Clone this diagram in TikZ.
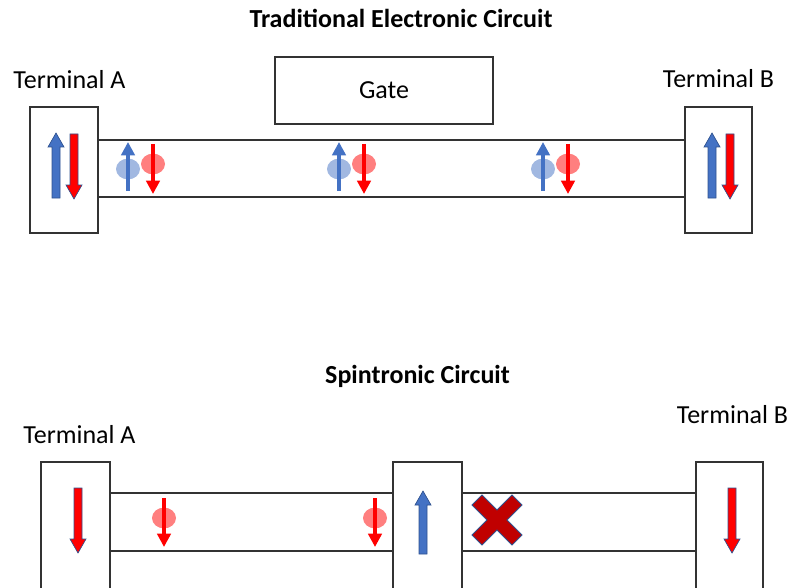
\documentclass[tikz,border=0pt]{standalone}
\usepackage{fontspec}
\setmainfont{Carlito}
\usetikzlibrary{arrows.meta}

\definecolor{spinblue}{HTML}{4472C4}
\definecolor{spinedge}{HTML}{2F528F}
\definecolor{spinred}{HTML}{FF0000}
\definecolor{crossred}{HTML}{C00000}

% block arrows: x, tip y, tail y
\newcommand\spinup[3]{\draw[bigblue] (#1-4,#3) -- (#1-4,#2+14) -- (#1-8,#2+14) -- (#1,#2) -- (#1+8,#2+14) -- (#1+4,#2+14) -- (#1+4,#3) -- cycle;}
\newcommand\spindown[3]{\draw[bigred] (#1-4,#3) -- (#1-4,#2-14) -- (#1-8,#2-14) -- (#1,#2) -- (#1+8,#2-14) -- (#1+4,#2-14) -- (#1+4,#3) -- cycle;}

\begin{document}
\begin{tikzpicture}[x=0.75pt,y=-0.75pt,
  every node/.style={font=\fontsize{19.5}{23}\selectfont},
  box/.style={draw=black!80,line width=1pt,inner sep=0pt},
  wire/.style={draw=black!80,line width=1pt},
  bigblue/.style={fill=spinblue,draw=spinedge,line width=0.5pt},
  bigred/.style={fill=spinred,draw=spinedge,line width=0.5pt},
  eblue/.style={fill=spinblue,fill opacity=0.5},
  ered/.style={fill=spinred,fill opacity=0.5},
  upspin/.style={spinblue,line width=2.6pt,-{Triangle[length=10pt,width=10pt]}},
  downspin/.style={spinred,line width=2.6pt,-{Triangle[length=10pt,width=10pt]}}]
  \useasboundingbox (0,0) rectangle (795,588);

  % traditional circuit
  \node[font=\fontsize{19.5}{23}\selectfont\bfseries] (title1) at (401,18) {Traditional Electronic Circuit};
  \node[box,minimum width=51pt,minimum height=94.5pt] (ta1) at (64,170) {};
  \node[box,minimum width=50.25pt,minimum height=94.5pt] (tb1) at (718.5,170) {};
  \node[box,minimum width=163.5pt,minimum height=50.25pt] (gate) at (384,90.5) {Gate};
  \node (la1) at (69.5,80) {Terminal A};
  \node (lb1) at (718.5,79) {Terminal B};
  \draw[wire] (ta1.east |- 0,140) -- (tb1.west |- 0,140);
  \draw[wire] (ta1.east |- 0,197) -- (tb1.west |- 0,197);
  \spinup{56}{133}{198}
  \spindown{74}{199}{134}
  \spinup{712}{133}{198}
  \spindown{730}{199}{134}
  \foreach \ex in {128,339,543} {
    \fill[eblue] (\ex,169) ellipse [x radius=9pt,y radius=7.8pt];
    \fill[ered] (\ex+25,164) ellipse [x radius=9pt,y radius=7.8pt];
    \draw[upspin] (\ex,191) -- (\ex,142);
    \draw[downspin] (\ex+25,144) -- (\ex+25,194);
  }

  % spintronic circuit
  \node[font=\fontsize{19.5}{23}\selectfont\bfseries] (title2) at (417.5,376) {Spintronic Circuit};
  \node[box,minimum width=51.75pt,minimum height=97.5pt] (ta2) at (75.5,527) {};
  \node[box,minimum width=51.75pt,minimum height=97.5pt] (mid2) at (427.5,527) {};
  \node[box,minimum width=50.25pt,minimum height=97.5pt] (tb2) at (729.5,527) {};
  \node (la2) at (79.5,435) {Terminal A};
  \node (lb2) at (732.5,415) {Terminal B};
  \draw[wire] (ta2.east |- 0,493) -- (mid2.west |- 0,493);
  \draw[wire] (ta2.east |- 0,551) -- (mid2.west |- 0,551);
  \draw[wire] (mid2.east |- 0,493) -- (tb2.west |- 0,493);
  \draw[wire] (mid2.east |- 0,551) -- (tb2.west |- 0,551);
  \spindown{78}{553}{488}
  \spinup{423}{491}{554}
  \spindown{732}{553}{488}
  \foreach \ex in {164,375} {
    \fill[ered] (\ex,518) ellipse [x radius=9pt,y radius=7.8pt];
    \draw[downspin] (\ex,498) -- (\ex,547);
  }
  \draw[fill=crossred,draw=spinedge,line width=0.6pt,shift={(497,520)}]
    (0,-10) -- (15,-25) -- (25,-15) -- (10,0) -- (25,15) -- (15,25) -- (0,10)
    -- (-15,25) -- (-25,15) -- (-10,0) -- (-25,-15) -- (-15,-25) -- cycle;
\end{tikzpicture}
\end{document}
